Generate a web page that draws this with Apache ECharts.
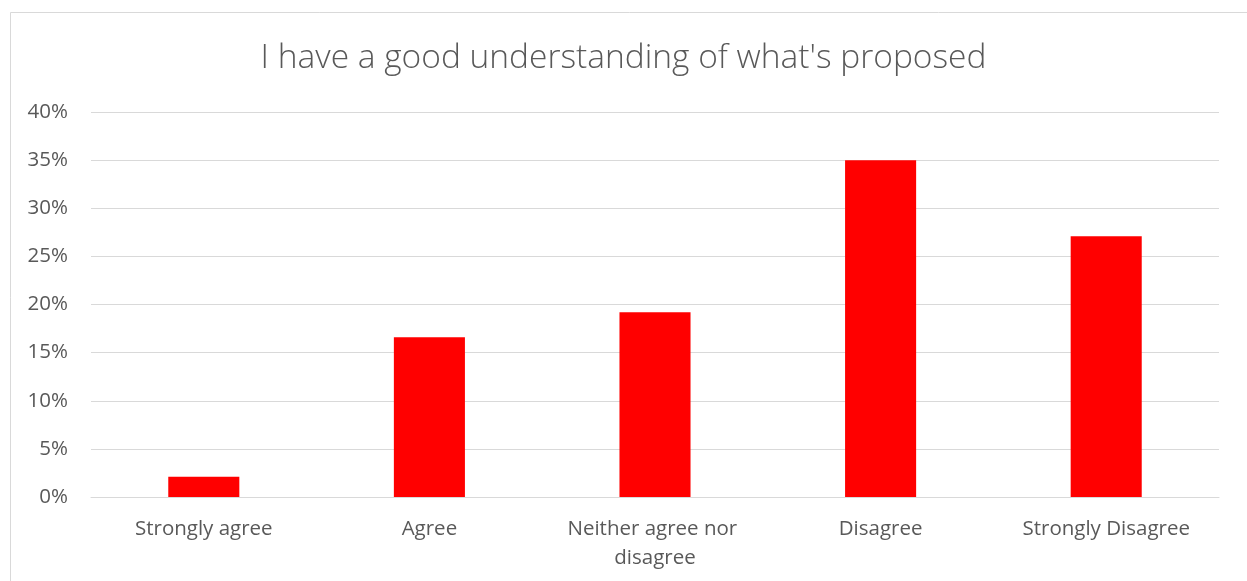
<!DOCTYPE html>
<html>
<head>
<meta charset="utf-8">
<script src="https://cdn.jsdelivr.net/npm/echarts@6/dist/echarts.min.js"></script>
<style>
html,body{margin:0;padding:0;background:#fff;}
#chart{width:1247px;height:581px;}
</style>
</head>
<body>
<div id="chart"></div>
<script>
const title = "I have a good understanding of what's proposed";
const categories = ["Strongly agree", "Agree", "Neither agree nor disagree", "Disagree", "Strongly Disagree"];
const values = [0.021, 0.166, 0.192, 0.350, 0.271];
const yTicks = { min: 0, max: 0.4, interval: 0.05 };

const chart = echarts.init(document.getElementById('chart'));
const font = '"Open Sans", Lato, sans-serif';
chart.setOption({
  animation: false,
  backgroundColor: '#fff',
  graphic: [{
    type: 'rect',
    shape: { x: 10.5, y: 12.5, width: 1300, height: 700 },
    style: { fill: 'none', stroke: '#d9d9d9', lineWidth: 1 },
    silent: true
  }],
  title: {
    text: title,
    left: 'center',
    top: 36,
    textStyle: { fontFamily: font, fontSize: 33.5, fontWeight: 300, color: '#595959' }
  },
  grid: { left: 91, right: 28, top: 112, bottom: 84, containLabel: false },
  xAxis: {
    type: 'category',
    data: categories,
    axisLine: { show: true, lineStyle: { color: '#d9d9d9', width: 1 } },
    axisTick: { show: false },
    axisLabel: {
      interval: 0,
      fontFamily: font, fontSize: 20.5, color: '#595959',
      margin: 18, width: 200, overflow: 'break', lineHeight: 29
    }
  },
  yAxis: {
    type: 'value',
    min: yTicks.min, max: yTicks.max, interval: yTicks.interval,
    axisLine: { show: false },
    axisTick: { show: false },
    splitLine: { lineStyle: { color: '#d9d9d9', width: 1 } },
    axisLabel: {
      fontFamily: font, fontSize: 20.5, color: '#595959', margin: 23,
      formatter: v => Math.round(v * 100) + '%'
    }
  },
  series: [{
    type: 'bar',
    data: values,
    barWidth: '31.5%',
    itemStyle: { color: '#ff0000' }
  }]
});
</script>
</body>
</html>
